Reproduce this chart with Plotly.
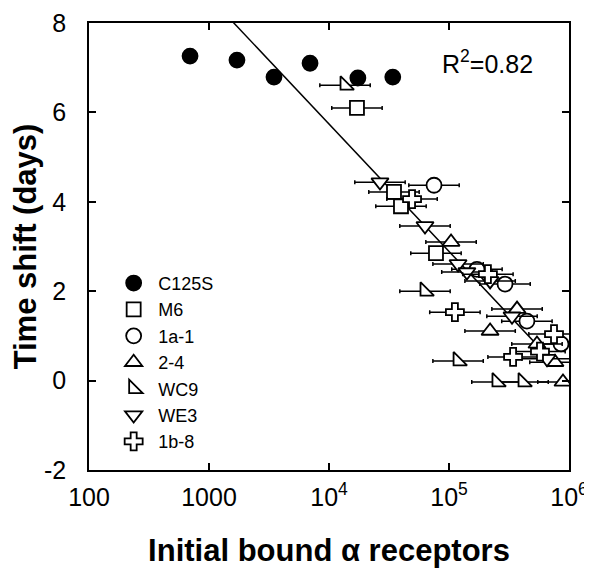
import math
import plotly.graph_objects as go

# ---- data ----
c125s_x = [695, 1710, 3480, 6950, 17400, 34000]
c125s_y = [7.26, 7.17, 6.79, 7.10, 6.77, 6.79]

m6_x = [17100, 34800, 39800, 77900]
m6_y = [6.10, 4.22, 3.90, 2.85]

a1_x = [75000, 171000, 293000, 446000, 858000]
a1_y = [4.37, 2.49, 2.16, 1.33, 0.82]

t24_x = [104000, 220000, 369000, 541000, 764000, 891000]
t24_y = [3.10, 1.11, 1.60, 0.82, 0.41, -0.03]

wc9_x = [13600, 63100, 119000, 251000, 414000]
wc9_y = [6.61, 2.00, 0.44, -0.03, -0.03]

we3_x = [26600, 63100, 119000, 141000, 220000, 335000, 656000]
we3_y = [4.44, 3.46, 2.61, 2.43, 2.23, 1.44, 0.49]

b18_x = [49200, 112000, 211000, 342000, 573000, 750000]
b18_y = [4.06, 1.53, 2.38, 0.53, 0.65, 1.04]

# horizontal error half-width, in decades
XERR_DECADES = 0.21

# regression line: y = slope*log10(x) + intercept
FIT_SLOPE = -2.85
FIT_INTERCEPT = 17.14
FIT_X = [1500, 800000]
R2_TEXT = "R<sup>2</sup>=0.82"

x_tickvals = [100, 1000, 1e4, 1e5, 1e6]
x_ticktext = ["100", "1000", "10<sup>4</sup>", "10<sup>5</sup>", "10<sup>6</sup>"]
y_tickvals = [-2, 0, 2, 4, 6, 8]
y_ticktext = ["-2", "0", "2", "4", "6", "8"]

FONT = "Liberation Sans"


def xerr(xs):
    f = 10 ** XERR_DECADES
    return dict(type="data", symmetric=False,
                array=[x * (f - 1) for x in xs],
                arrayminus=[x * (1 - 1 / f) for x in xs],
                color="black", thickness=1.5, width=2)


fig = go.Figure()

# fit line
fig.add_trace(go.Scatter(
    x=FIT_X, y=[FIT_SLOPE * math.log10(v) + FIT_INTERCEPT for v in FIT_X],
    mode="lines", line=dict(color="black", width=1.5), showlegend=False,
    hoverinfo="skip"))

series = [
    ("C125S", c125s_x, c125s_y, "circle", "black", 15, False),
    ("M6", m6_x, m6_y, "square", "white", 14, True),
    ("1a-1", a1_x, a1_y, "circle", "white", 15, True),
    ("2-4", t24_x, t24_y, "triangle-up", "white", 15, True),
    ("WC9", wc9_x, wc9_y, "triangle-sw", "white", 15, True),
    ("WE3", we3_x, we3_y, "triangle-down", "white", 15, True),
    ("1b-8", b18_x, b18_y, "cross", "white", 15, True),
]

for name, xs, ys, sym, fill, size, err in series:
    fig.add_trace(go.Scatter(
        x=xs, y=ys, mode="markers", name=name,
        marker=dict(symbol=sym, color=fill, size=size,
                    line=dict(color="black", width=1.8)),
        error_x=xerr(xs) if err else None,
    ))

axis_common = dict(
    showline=True, linecolor="black", linewidth=1.5, mirror="ticks",
    ticks="inside", ticklen=7, tickwidth=1.5, tickcolor="black",
    showgrid=False, zeroline=False, automargin=False,
    tickfont=dict(family=FONT, size=25, color="black"),
)

# page body has an 8px margin: figure is sized/offset so the plot area lands
# at x 89..569, y 23..470 of the window
fig.update_layout(
    width=584, height=560,
    margin=dict(l=81, r=23, t=15, b=98),
    paper_bgcolor="white", plot_bgcolor="white",
    font=dict(family=FONT, color="black"),
    xaxis=dict(type="log", range=[2, 6], tickvals=x_tickvals, ticktext=x_ticktext,
               ticklabelstandoff=4,
               title=dict(text="Initial bound α receptors", standoff=30,
                          font=dict(family=FONT, size=31, weight="bold", color="black")),
               **axis_common),
    yaxis=dict(range=[-2, 8], tickvals=y_tickvals, ticktext=y_ticktext,
               ticklabelstandoff=16,
               title=dict(text="Time shift (days)", standoff=2,
                          font=dict(family=FONT, size=31, weight="bold", color="black")),
               **axis_common),
    legend=dict(x=0.042, y=0.459, xanchor="left", yanchor="top",
                font=dict(family=FONT, size=18, color="black"),
                bgcolor="rgba(0,0,0,0)", itemwidth=39, tracegroupgap=0),
    annotations=[dict(text=R2_TEXT, xref="paper", yref="paper", x=0.731, y=0.913,
                      xanchor="left", yanchor="middle", showarrow=False,
                      font=dict(family=FONT, size=25, color="black"))],
)

fig.write_html("out.html")
